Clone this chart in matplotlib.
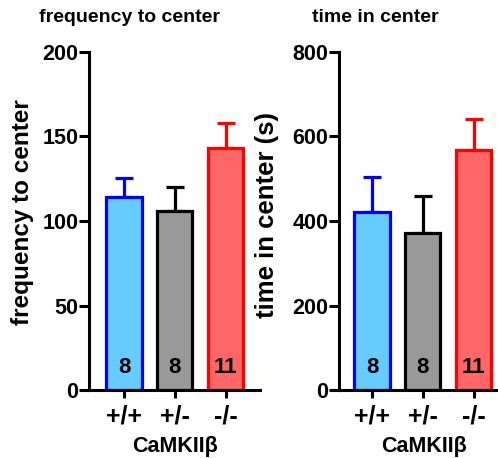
import numpy as np
import matplotlib
matplotlib.use("Agg")
import matplotlib.pyplot as plt

plt.rcParams['font.family'] = ['Liberation Sans', 'DejaVu Sans']
plt.rcParams['font.weight'] = 'bold'

# data
genotypes = ["+/+", "+/-", "-/-"]
n_mice = ["8", "8", "11"]
freq_mean = [114, 106, 143]
freq_sem = [11.5, 14, 15]
time_mean = [421, 372, 567]
time_sem = [83, 87, 75]

fills = ["#66ccff", "#999999", "#ff6666"]
edges = ["#0000ff", "#000000", "#ff0000"]

W, H = 498, 458
fig = plt.figure(figsize=(W / 100, H / 100), dpi=100)


def px_axes(x0, x1, ytop, ybot):
    return fig.add_axes([x0 / W, (H - ybot) / H, (x1 - x0) / W, (ybot - ytop) / H])


def panel(ax, mean, sem, ymax, yticks, xlim):
    x = np.arange(len(mean))
    ax.bar(x, mean, width=0.69, color=fills, edgecolor=edges, linewidth=2.3, zorder=2)
    for i in range(len(mean)):
        ax.errorbar(x[i], mean[i], yerr=[[0], [sem[i]]], color=edges[i],
                    elinewidth=2.3, capsize=6.5, capthick=2.3, zorder=1)
        ax.annotate(n_mice[i], xy=(x[i], 0.066), xycoords=('data', 'axes fraction'),
                    ha='center', va='center', fontsize=16, fontweight='bold', zorder=3)
    ax.set_xlim(*xlim)
    ax.set_ylim(0, ymax)
    ax.set_yticks(yticks)
    ax.set_xticks(x)
    ax.set_xticklabels(genotypes, fontsize=18, fontweight='bold')
    ax.tick_params(axis='y', labelsize=15.5, width=2.2, length=7, pad=0.5)
    ax.tick_params(axis='x', width=2.2, length=6, pad=4.5)
    for s in ['top', 'right']:
        ax.spines[s].set_visible(False)
    for s in ['left', 'bottom']:
        ax.spines[s].set_linewidth(2.2)
    ax.set_xlabel("CaMKIIβ", fontsize=15.5, fontweight='bold', labelpad=5)
    ax.set_facecolor('none')


ax1 = px_axes(89, 260, 52, 390)
panel(ax1, freq_mean, freq_sem, 200, [0, 50, 100, 150, 200], (-0.686, 2.67))

ax2 = px_axes(339, 508, 52, 390)
panel(ax2, time_mean, time_sem, 800, [0, 200, 400, 600, 800], (-0.647, 2.67))

# y labels
fig.text(23 / W, 1 - 212 / H, "frequency to center", rotation=90, ha='center',
         va='center', fontsize=17.5, fontweight='bold')
fig.text(267 / W, 1 - 215 / H, "time in center (s)", rotation=90, ha='center',
         va='center', fontsize=18.5, fontweight='bold')

# panel titles
fig.text(129 / W, 1 - 18 / H, "frequency to center", ha='center', va='center',
         fontsize=14, fontweight='bold')
fig.text(375 / W, 1 - 18 / H, "time in center", ha='center', va='center',
         fontsize=14, fontweight='bold')

fig.savefig("out.png", dpi=100)
